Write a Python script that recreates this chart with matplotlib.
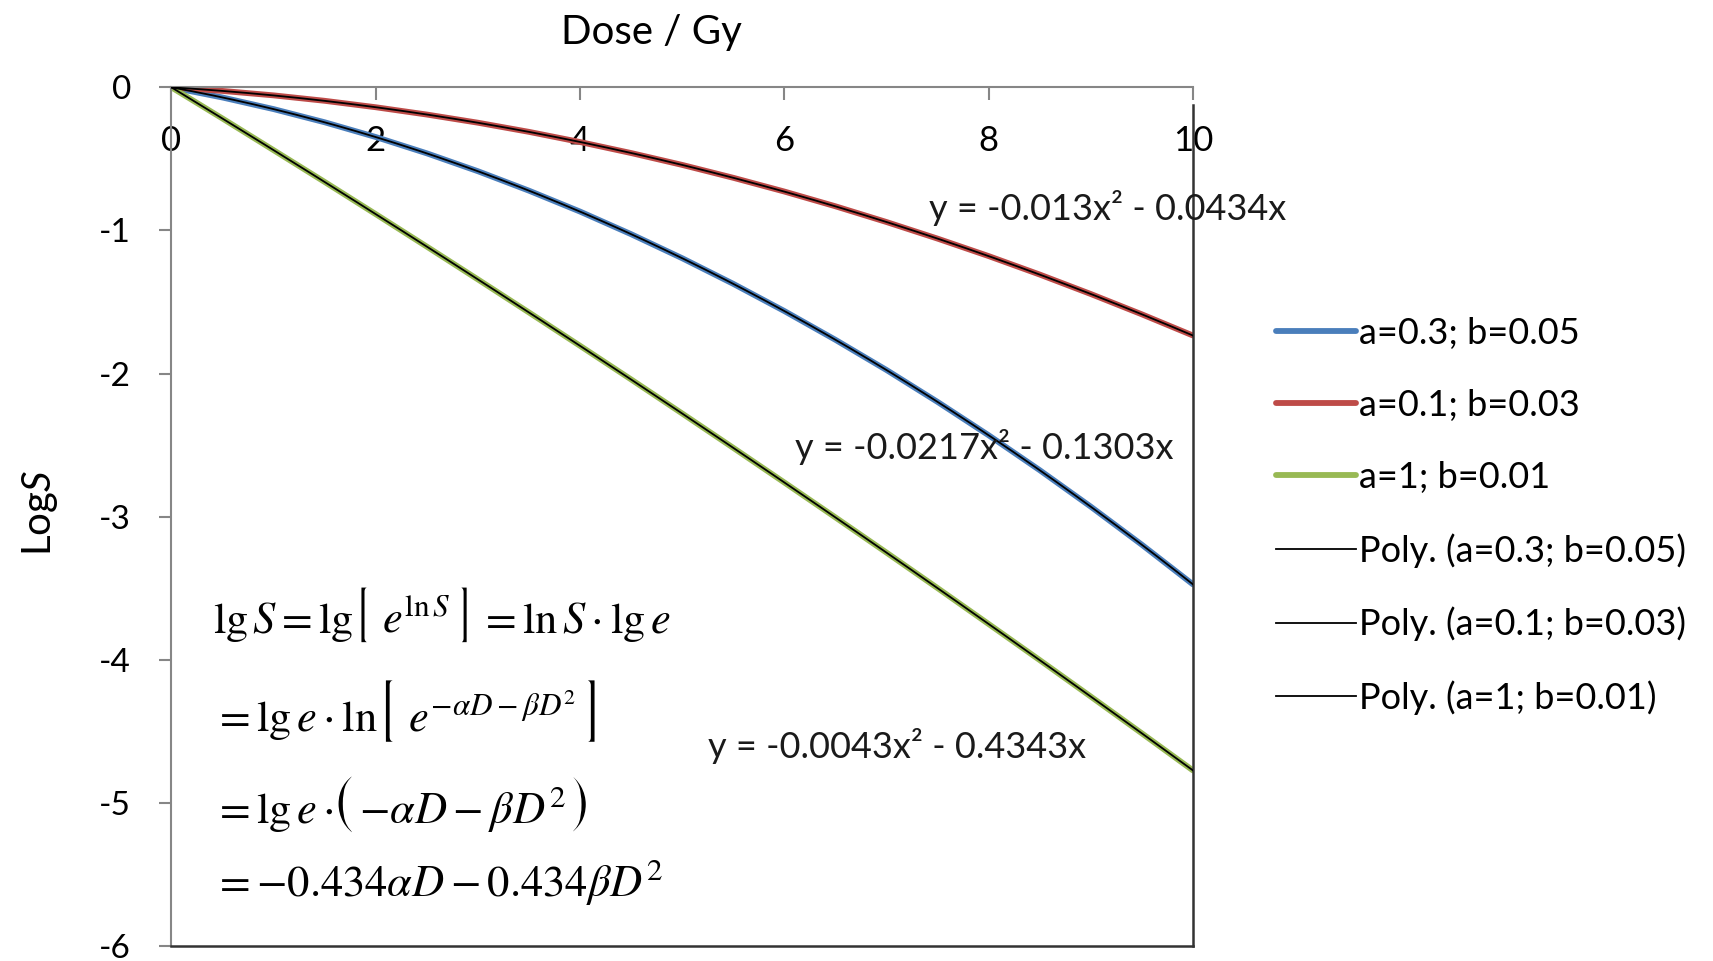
import numpy as np
import matplotlib
matplotlib.use("Agg")
import matplotlib.pyplot as plt
import matplotlib.patheffects as pe
from matplotlib.offsetbox import TextArea, HPacker, AnnotationBbox

# Dose values (Gy) and log10 survival
dose = [0, 0.5, 1, 1.5, 2, 2.5, 3, 3.5, 4, 4.5, 5, 5.5, 6, 6.5, 7, 7.5, 8, 8.5, 9, 9.5, 10]
logs_a03_b005 = [0, -0.071, -0.152, -0.244, -0.347, -0.461, -0.586, -0.722, -0.868, -1.026,
                 -1.194, -1.373, -1.563, -1.764, -1.975, -2.198, -2.431, -2.675, -2.930, -3.196, -3.473]
logs_a01_b003 = [0, -0.025, -0.056, -0.094, -0.139, -0.190, -0.247, -0.311, -0.382, -0.459,
                 -0.542, -0.632, -0.728, -0.831, -0.941, -1.057, -1.179, -1.308, -1.444, -1.586, -1.734]
logs_a1_b001 = [0, -0.218, -0.439, -0.661, -0.886, -1.113, -1.342, -1.573, -1.806, -2.041,
                -2.279, -2.519, -2.761, -3.005, -3.251, -3.499, -3.750, -4.002, -4.257, -4.514, -4.773]

names = ["a=0.3; b=0.05", "a=0.1; b=0.03", "a=1; b=0.01"]
colors = ["#4A7EBB", "#BE4B48", "#98B954"]
series = [logs_a03_b005, logs_a01_b003, logs_a1_b001]

# trendline equations as printed on the chart, and where they sit
eq_text = ["y = -0.0217x² - 0.1303x", "y = -0.013x² - 0.0434x", "y = -0.0043x² - 0.4343x"]
eq_pos = [(6.10, -2.51), (7.42, -0.84), (5.25, -4.60)]

xticks = [0, 2, 4, 6, 8, 10]
yticks = [0, -1, -2, -3, -4, -5, -6]

plt.rcParams['font.family'] = ['Lato', 'DejaVu Sans']
plt.rcParams['axes.unicode_minus'] = False
plt.rcParams['mathtext.fontset'] = 'custom'
plt.rcParams['mathtext.rm'] = 'Lato'
plt.rcParams['mathtext.it'] = 'Lato:italic'

fig = plt.figure(figsize=(17.13, 9.61), dpi=100)
ax = fig.add_axes([0.1001, 0.0156, 0.5963, 0.8935])

x = np.array(dose)
handles = []
for ys, c, nm in zip(series, colors, names):
    h, = ax.plot(x, ys, color=c, lw=4.2, solid_capstyle='round', label=nm, zorder=2)
    handles.append(h)

# polynomial trendlines (order 2, intercept forced to 0)
xf = np.linspace(0, 10, 200)
for ys, nm, txt, pos in zip(series, names, eq_text, eq_pos):
    A = np.column_stack([x**2, x])
    coef, *_ = np.linalg.lstsq(A, np.array(ys), rcond=None)
    h, = ax.plot(xf, coef[0]*xf**2 + coef[1]*xf, color='black', lw=1.3,
                 label='Poly. (%s)' % nm, zorder=3)
    handles.append(h)
    ax.text(pos[0], pos[1], txt, fontsize=26, va='center', ha='left',
            color='#1a1a1a', zorder=4)

ax.set_xlim(0, 10)
ax.set_ylim(-6, 0)
ax.set_xticks(xticks)
ax.set_yticks(yticks)
ax.xaxis.set_ticks_position('top')
ax.tick_params(axis='x', direction='in', length=9, color='#868686', width=1.5,
               pad=-50, labelsize=25)
ax.tick_params(axis='y', direction='out', length=9, color='#868686', width=1.5,
               pad=20, labelsize=24)

for s in ['left', 'top']:
    ax.spines[s].set_color('#868686')
    ax.spines[s].set_linewidth(1.5)
for s in ['right', 'bottom']:
    ax.spines[s].set_color('#333333')
    ax.spines[s].set_linewidth(1.8)
ax.spines['right'].set_bounds(-6, -0.12)

ax.xaxis.set_label_position('top')
ax.set_xlabel('Dose / Gy', fontsize=29)
ax.xaxis.set_label_coords(0.470, 1.05)
ax.set_ylabel('Log$S$', fontsize=29)
ax.yaxis.set_label_coords(-0.109, 0.504)

# derivation written inside the plot; brackets set larger (and thinned) than the rest
FS = 32
thin = [pe.Normal(), pe.Stroke(linewidth=1.6, foreground='white')]
formula = [
    (-3.68, [(r'$\lg S=\lg$', FS), (r'$[$', 50), (r'$\,e^{\ln S}\,$', FS), (r'$]$', 50),
             (r'$\;=\ln S\cdot\lg e$', FS)]),
    (-4.35, [(r'$=\lg e\cdot\ln$', FS), (r'$[$', 56), (r'$\,e^{-\alpha D-\beta D^2}\,$', FS),
             (r'$]$', 56)]),
    (-5.00, [(r'$=\lg e\cdot$', FS), (r'$($', 54), (r'$-\alpha D-\beta D^2$', FS), (r'$)$', 54)]),
    (-5.55, [(r'$=-0.434\alpha D-0.434\beta D^2$', FS)]),
]
for yy, parts in formula:
    boxes = []
    for s, f in parts:
        props = dict(fontsize=f, math_fontfamily='stix')
        if f != FS:
            props['path_effects'] = thin
        boxes.append(TextArea(s, textprops=props))
    pack = HPacker(children=boxes, align='baseline', pad=0, sep=0)
    ab = AnnotationBbox(pack, (0.41, yy), xycoords='data', box_alignment=(0, 0.5),
                        frameon=False, pad=0, zorder=5)
    ax.add_artist(ab)

fig.legend(handles=handles, loc='center left', bbox_to_anchor=(0.745, 0.463),
           bbox_transform=fig.transFigure, frameon=False, fontsize=26,
           handlelength=2.2, handletextpad=0.1, labelspacing=1.08, borderpad=0,
           borderaxespad=0)

fig.savefig('out.png', dpi=100)
